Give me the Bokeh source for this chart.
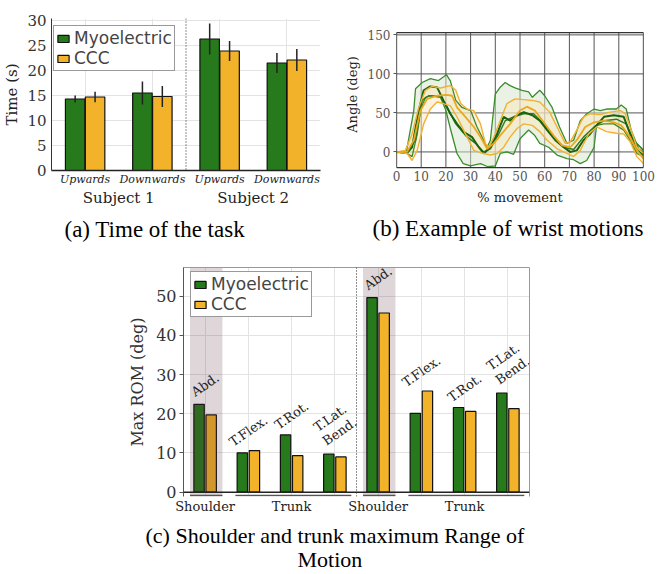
from bokeh.plotting import figure
from bokeh.models import Range1d, FixedTicker, Span, Legend, LegendItem, LinearAxis, Title
from bokeh.layouts import row, column
from bokeh.embed import file_html
from bokeh.resources import INLINE
from bokeh.core.properties import value
import numpy as np

# ---------------- data ----------------
# (a) time of the task
tasks = ["Upwards", "Downwards", "Upwards", "Downwards"]
subjects = ["Subject 1", "Subject 2"]
time_myo = [14.3, 15.5, 26.3, 21.5]
time_myo_err = [0.7, 2.3, 3.1, 2.0]
time_ccc = [14.7, 14.8, 23.9, 22.1]
time_ccc_err = [1.05, 2.1, 2.0, 2.2]

# (b) wrist motions (% movement vs angle)
gu_x = [0, 4, 7, 7.7, 10.4, 13.7, 17, 20.2, 21.8, 24, 26.5, 30, 32.6, 35.3, 36.7, 38, 40, 42, 44, 46, 48, 50.8,
        53.5, 55, 58, 60, 63, 66, 69, 71.7, 74.4, 77, 80, 82.5, 85, 89, 91, 93, 95, 98, 100]
gu_y = [0, 0, 53, 81, 89, 94, 91.5, 99, 91, 66, 57, 53, 32, 15, 6, 15, 74, 83, 89, 85, 82, 79,
        77, 70, 79, 72, 57, 32, 11, 15, 40, 49, 55, 53, 55, 55, 60, 55, 28, 4, 0]
gl_x = [0, 4.3, 6.3, 8.4, 9.7, 11.7, 13.7, 17.8, 20, 21.8, 24.5, 27, 30, 34, 37, 40, 42, 44.7, 47.4, 50, 53.5,
        56, 58, 61.6, 65, 69, 71.7, 74.4, 77, 80, 81, 84, 88, 92, 94.6, 97.3, 100]
gl_y = [0, -2, -6, 23, 53, 70, 72, 70, 53, 30, -2, -15, -18, -15, -19, -18, -2, 0, -3, 17, 28,
        21, 11, 6, -4, -8.5, -10, -15, -11, 6, 34, 36, 36, 28, 15, -2, -6]
gm_x = [0, 4.3, 6.3, 9, 11, 13.7, 16.4, 19, 21.8, 24.5, 27, 30.6, 33.3, 35.3, 38, 40.7, 43.4, 46, 48.8, 51.5,
        55, 58, 61, 64.3, 67.7, 70.3, 73, 75.7, 78.4, 81, 84, 88, 92, 94.6, 97.3, 100]
gm_y = [0, -1, 6, 53, 79, 84, 83, 66, 49, 36, 26, 19, 6, -2, 6, 23, 45, 40, 47, 51,
        47, 40, 28, 15, 6, 0, 2, 15, 23, 34, 45, 47, 45, 23, 2, -4]
gm2_x = [0, 4.3, 7.7, 10.4, 13, 17.8, 20.5, 24, 28, 32, 35.3, 38, 41.4, 44, 47.4, 51.5, 55.5, 59.6, 63.6, 67.7,
         71.7, 75.7, 80, 84, 89, 93, 96, 100]
gm2_y = [0, 0, 15, 66, 72, 71, 57, 36, 21, 11, 0, 4, 23, 40, 45, 49, 49, 36, 19, 6,
         3, 19, 32, 40, 42, 36, 15, 2]
yu_x = [0, 3.6, 6.3, 9, 11.7, 14.4, 17.8, 21.8, 24, 26, 28.6, 31.3, 34, 36, 37.3, 39.4, 42, 44.7, 48, 51.5, 55,
        58, 62, 65, 68.3, 70.3, 73, 75.7, 78.4, 82.5, 86.5, 90.6, 92.6, 94.6, 97.3, 100]
yu_y = [0, 2, 23, 57, 79, 84, 82, 85, 79, 62, 55, 53, 36, 11, 6, 19, 40, 62, 68, 67, 66,
        64, 51, 32, 11, 13, 28, 45, 49, 48, 51, 53, 49, 32, 6, -2]
yl_x = [0, 4.3, 6.3, 8.4, 11, 13.7, 16.4, 19, 21.8, 24.5, 28.6, 31.3, 34, 38, 40.7, 43.4, 46, 48.8, 51.5, 55,
        58, 61, 65, 69, 71.7, 74.4, 77.8, 81, 85, 89, 92, 94.6, 97.3, 100]
yl_y = [0, -2, -11, 2, 36, 55, 64, 62, 59, 45, 19, 2, -1, -4, -2, 6, 19, 30, 36, 34,
        26, 15, 4, -2, -6, 2, 23, 32, 26, 24, 23, 13, -6, -15]
ym_x = [0, 4.3, 7, 9.7, 12.4, 16.4, 20.5, 22.5, 24.5, 27.9, 31.3, 34, 36.7, 39.4, 42, 46, 50, 52.8, 56, 59.6,
        63.6, 67, 70.3, 73, 76.4, 80, 84, 88, 91, 94.6, 97.3, 100]
ym_y = [0, 0, 15, 53, 68, 72, 73, 72, 57, 45, 32, 19, 4, 11, 21, 36, 53, 58, 53, 38,
        21, 8.5, 6, 15, 32, 38, 40, 38, 34, 19, 2, -8.5]

# (c) max ROM
rom_labels = ["Abd.", "T.Flex.", "T.Rot.", "T.Lat.\nBend.", "Abd.", "T.Flex.", "T.Rot.", "T.Lat.\nBend."]
rom_region = ["Shoulder", "Trunk", "Trunk", "Trunk", "Shoulder", "Trunk", "Trunk", "Trunk"]
rom_myo = [22.4, 10.0, 14.6, 9.7, 49.6, 20.1, 21.6, 25.3]
rom_ccc = [19.7, 10.6, 9.3, 9.0, 45.7, 25.8, 20.6, 21.3]

# ---------------- style ----------------
GREEN = "#267a1b"
YELLOW = "#f2b22a"
SERIF = "DejaVu Serif"
SANS = "DejaVu Sans"
CAP = "Liberation Serif"


def style_legend(leg):
    leg.label_text_font = SANS
    leg.label_text_font_size = "17px"
    leg.label_height = 18
    leg.glyph_width = 14
    leg.glyph_height = 9
    leg.label_standoff = 4
    leg.spacing = 0
    leg.padding = 2
    leg.margin = 0
    leg.border_line_color = "#333333"
    leg.border_line_width = 1.2
    leg.background_fill_alpha = 1.0


def caption(p, text, offset, standoff, size="23px"):
    p.add_layout(Title(text=text, align="left", offset=offset, standoff=standoff, text_font=CAP,
                       text_font_size=size, text_font_style="normal", text_color="black"), "below")


def no_ticks(ax):
    ax.major_tick_in = 0
    ax.major_tick_out = 0
    ax.minor_tick_in = 0
    ax.minor_tick_out = 0
    ax.major_tick_line_color = None
    ax.minor_tick_line_color = None


ROW_H = 250
TOP = 18
BOTTOM = 80

# ---------------- (a) ----------------
pa = figure(width=330, height=ROW_H, min_border_left=49, min_border_right=10,
            min_border_top=TOP, min_border_bottom=BOTTOM,
            x_range=Range1d(-0.5, 3.5), y_range=Range1d(0, 30.4),
            output_backend="svg", toolbar_location=None)
pa.outline_line_color = None
xa = np.arange(len(tasks))
ra1 = pa.vbar(x=xa - 0.148, top=time_myo, width=0.29, fill_color=GREEN, line_color="#111111", line_width=1.2)
ra2 = pa.vbar(x=xa + 0.148, top=time_ccc, width=0.29, fill_color=YELLOW, line_color="#111111", line_width=1.2)
for off, vals, errs in [(-0.148, time_myo, time_myo_err), (0.148, time_ccc, time_ccc_err)]:
    v = np.array(vals)
    e = np.array(errs)
    pa.segment(x0=xa + off, y0=v - e, x1=xa + off, y1=v + e, line_color="#222222", line_width=1.5)
pa.add_layout(Span(location=1.5, dimension="height", line_color="#222222", line_dash="1 2", line_width=1))

pa.xaxis.ticker = FixedTicker(ticks=list(xa))
pa.xaxis.major_label_overrides = {int(i): t for i, t in enumerate(tasks)}
pa.xaxis.major_label_text_font = SERIF
pa.xaxis.major_label_text_font_style = "italic"
pa.xaxis.major_label_text_font_size = "11px"
pa.xaxis.major_label_text_color = "#222222"
pa.xaxis.major_label_standoff = 2
no_ticks(pa.xaxis[0])
pa.xaxis.axis_line_color = "#222222"
pa.xaxis.axis_line_width = 1.3

# second row of x labels: subjects
sub_axis = LinearAxis(ticker=FixedTicker(ticks=[0.5, 2.5]),
                      major_label_overrides={0.5: subjects[0], 2.5: subjects[1]},
                      major_label_text_font=SERIF, major_label_text_font_size="15px",
                      major_label_text_color="#222222", major_label_standoff=0, axis_line_color=None)
no_ticks(sub_axis)
pa.add_layout(sub_axis, "below")

pa.yaxis.ticker = FixedTicker(ticks=[0, 5, 10, 15, 20, 25, 30])
pa.yaxis.axis_label = "Time (s)"
pa.yaxis.axis_label_text_font = SERIF
pa.yaxis.axis_label_text_font_style = "normal"
pa.yaxis.axis_label_text_font_size = "15px"
pa.yaxis.axis_label_text_color = "#222222"
pa.yaxis.axis_label_standoff = 3
pa.yaxis.major_label_text_font = SERIF
pa.yaxis.major_label_text_font_size = "15px"
pa.yaxis.major_label_text_color = "#333333"
pa.yaxis.major_label_standoff = 5
no_ticks(pa.yaxis[0])
pa.yaxis.axis_line_color = "#333333"
pa.grid.grid_line_color = "#e3e3e3"

leg_a = Legend(items=[LegendItem(label="Myoelectric", renderers=[ra1]),
                      LegendItem(label="CCC", renderers=[ra2])], location=(2, 99))
style_legend(leg_a)
pa.add_layout(leg_a)
caption(pa, "(a) Time of the task", 13, 11)

# ---------------- (b) ----------------
BX0, BX1, BY0, BY1 = 0, 100, -20, 153
# frame shared with (a) in the row; the (b) box itself is drawn at its own limits
pb = figure(width=330, height=ROW_H, min_border_left=66, min_border_right=17,
            min_border_top=TOP, min_border_bottom=BOTTOM,
            x_range=Range1d(BX0, BX1), y_range=Range1d(-23.8, 171),
            output_backend="svg", toolbar_location=None)
pb.outline_line_color = None
xt_b = list(range(0, 101, 10))
yt_b = [0, 50, 100, 150]
pb.segment(x0=xt_b, y0=BY0, x1=xt_b, y1=BY1, line_color="#555555", line_width=1)
pb.segment(x0=BX0, y0=yt_b, x1=BX1, y1=yt_b, line_color="#555555", line_width=1)
pb.patch(x=gu_x + gl_x[::-1], y=gu_y + gl_y[::-1], fill_color="#d3e6cb", fill_alpha=0.5, line_color=None)
pb.patch(x=yu_x + yl_x[::-1], y=yu_y + yl_y[::-1], fill_color="#fbe6bd", fill_alpha=0.5, line_color=None)
pb.line(gu_x, gu_y, line_color="#3c8c2c", line_width=1.3)
pb.line(gl_x, gl_y, line_color="#3c8c2c", line_width=1.3)
pb.line(gm2_x, gm2_y, line_color="#2f7d20", line_width=1.5)
pb.line(gm_x, gm_y, line_color="#1b620f", line_width=2)
pb.line(yu_x, yu_y, line_color="#f1b233", line_width=1.4)
pb.line(yl_x, yl_y, line_color="#f1b233", line_width=1.4)
pb.line(ym_x, ym_y, line_color="#eaa81f", line_width=1.8)
pb.quad(left=[BX0], right=[BX1], bottom=[BY0], top=[BY1], fill_color=None, line_color="#333333",
        line_width=1.3)
pb.grid.visible = False

pb.xaxis.ticker = FixedTicker(ticks=xt_b)
pb.yaxis.ticker = FixedTicker(ticks=yt_b)
for ax in (pb.xaxis[0], pb.yaxis[0]):
    ax.axis_line_color = None
    ax.major_label_text_font = SERIF
    ax.major_label_text_font_size = "12px"
    ax.major_label_text_color = "#555555"
    ax.axis_label_text_font = SERIF
    ax.axis_label_text_font_style = "normal"
    ax.axis_label_text_font_size = "13px"
    ax.axis_label_text_color = "#222222"
    ax.minor_tick_line_color = None
    ax.minor_tick_out = 0
    ax.minor_tick_in = 0
pb.xaxis.axis_label = "% movement"
no_ticks(pb.xaxis[0])
pb.xaxis.major_label_standoff = 0
pb.xaxis.axis_label_standoff = 6
pb.yaxis.axis_label = "Angle (deg)"
pb.yaxis.major_tick_line_color = "#555555"
pb.yaxis.major_tick_in = 0
pb.yaxis.major_tick_out = 3
pb.yaxis.major_label_standoff = 3
pb.yaxis.axis_label_standoff = 5
caption(pb, "(b) Example of wrist motions", -24, 13)

# ---------------- (c) ----------------
Y0, Y1 = -1.1, 57.3
pc = figure(width=660, height=324, min_border_left=183, min_border_right=131,
            min_border_top=17, min_border_bottom=78,
            x_range=Range1d(-0.5, 7.5), y_range=Range1d(Y0, Y1),
            output_backend="svg", toolbar_location=None)
pc.outline_line_color = None
xc = np.arange(len(rom_labels))
shoulder_idx = [i for i, r in enumerate(rom_region) if r == "Shoulder"]
SHADE = "#5a323c"
# shade behind the second shoulder group, over the first one
pc.quad(left=[shoulder_idx[1] - 0.35], right=[shoulder_idx[1] + 0.40], bottom=[Y0], top=[Y1],
        fill_color=SHADE, fill_alpha=0.2, line_color=None)
rc1 = pc.vbar(x=xc - 0.14, top=rom_myo, width=0.24, fill_color=GREEN, line_color="#111111", line_width=1.2)
rc2 = pc.vbar(x=xc + 0.14, top=rom_ccc, width=0.24, fill_color=YELLOW, line_color="#111111", line_width=1.2)
pc.quad(left=[shoulder_idx[0] - 0.35], right=[shoulder_idx[0] + 0.40], bottom=[Y0], top=[Y1],
        fill_color=SHADE, fill_alpha=0.2, line_color=None)

lab_y = [max(a, b) + (7.5 if "\n" in t else 5.0) for a, b, t in zip(rom_myo, rom_ccc, rom_labels)]
pc.text(x=xc, y=lab_y, text=rom_labels, angle=np.deg2rad(35), text_align="center", text_baseline="middle",
        text_font=value(SERIF), text_font_size="13px", text_color="#222222", text_line_height=1.1)

pc.add_layout(Span(location=0, dimension="width", line_color="#222222", line_width=1.5))
pc.add_layout(Span(location=3.5, dimension="height", line_color="#222222", line_dash="1 2", line_width=1))

# region underlines and labels (consecutive runs of the same region, split per subject)
runs = []
start = 0
for i in range(1, len(rom_region) + 1):
    if i == len(rom_region) or rom_region[i] != rom_region[start] or i == len(rom_region) // 2:
        runs.append((rom_region[start], start, i - 1))
        start = i
ux0, ux1, tick_pos, tick_lab = [], [], [], []
for reg, a, b in runs:
    if reg == "Shoulder":
        ux0.append(a - 0.35)
        ux1.append(b + 0.40)
        tick_pos.append(a)
    else:
        ux0.append(a - 0.30)
        ux1.append(b + 0.38)
        tick_pos.append((a + b) // 2)
    tick_lab.append(reg)
pc.segment(x0=ux0, y0=-0.85, x1=ux1, y1=-0.85, line_color="#555555", line_width=1.6)

pc.xaxis.ticker = FixedTicker(ticks=tick_pos)
pc.xaxis.major_label_overrides = {int(p): l for p, l in zip(tick_pos, tick_lab)}
pc.xaxis.major_label_text_font = SERIF
pc.xaxis.major_label_text_font_size = "13px"
pc.xaxis.major_label_text_color = "#222222"
pc.xaxis.major_label_standoff = 2
pc.xaxis.axis_line_color = None
no_ticks(pc.xaxis[0])
pc.xgrid.ticker = FixedTicker(ticks=list(xc))

pc.yaxis.ticker = FixedTicker(ticks=[0, 10, 20, 30, 40, 50])
pc.yaxis.axis_label = "Max ROM (deg)"
pc.yaxis.axis_label_text_font = SERIF
pc.yaxis.axis_label_text_font_style = "normal"
pc.yaxis.axis_label_text_font_size = "16px"
pc.yaxis.axis_label_text_color = "#333333"
pc.yaxis.axis_label_standoff = 6
pc.yaxis.major_label_text_font = SERIF
pc.yaxis.major_label_text_font_size = "16px"
pc.yaxis.major_label_text_color = "#333333"
pc.yaxis.major_label_standoff = 3
pc.yaxis.major_tick_line_color = "#555555"
pc.yaxis.major_tick_in = 0
pc.yaxis.major_tick_out = 4
pc.yaxis.minor_tick_line_color = None
pc.yaxis.minor_tick_out = 0
pc.yaxis.axis_line_color = "#555555"
pc.grid.grid_line_color = "#e3e3e3"

for place in ("above", "right"):
    ax = LinearAxis(axis_line_color="#999999", major_label_text_font_size="0px",
                    major_label_text_color=None, major_label_standoff=0)
    no_ticks(ax)
    pc.add_layout(ax, place)

leg_c = Legend(items=[LegendItem(label="Myoelectric", renderers=[rc1]),
                      LegendItem(label="CCC", renderers=[rc2])], location=(7, 179))
style_legend(leg_c)
pc.add_layout(leg_c)

caption(pc, "(c) Shoulder and trunk maximum Range of", -38, 9, "22px")
caption(pc, "Motion", 114, -16, "22px")

layout = column(row(pa, pb), pc)
open("out.html", "w").write(file_html(layout, INLINE))
